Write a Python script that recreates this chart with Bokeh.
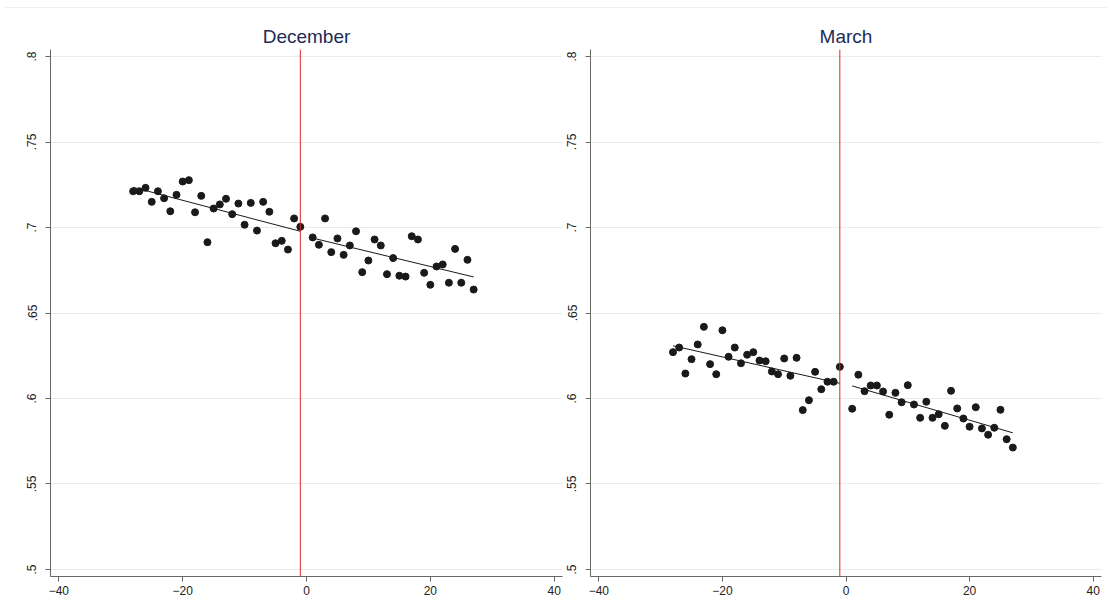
import numpy as np
from bokeh.plotting import figure
from bokeh.models import FixedTicker, Span, Div
from bokeh.layouts import row, column
from bokeh.embed import file_html
from bokeh.resources import INLINE

# ---- data ----
x_left = list(range(-28, 0))
x_right = list(range(1, 28))
cutoff = -1

dec_left = [0.7212, 0.7212, 0.7232, 0.7150, 0.7212, 0.7171, 0.7095, 0.7191, 0.7269, 0.7277,
            0.7089, 0.7185, 0.6914, 0.7111, 0.7135, 0.7168, 0.7078, 0.7140, 0.7016, 0.7144,
            0.6982, 0.7150, 0.7092, 0.6908, 0.6922, 0.6871, 0.7053, 0.7004]
dec_right = [0.6942, 0.6899, 0.7053, 0.6856, 0.6936, 0.6840, 0.6895, 0.6978, 0.6739, 0.6807,
             0.6930, 0.6895, 0.6727, 0.6821, 0.6718, 0.6713, 0.6949, 0.6930, 0.6735, 0.6665,
             0.6772, 0.6784, 0.6677, 0.6875, 0.6677, 0.6811, 0.6637]
mar_left = [0.6271, 0.6298, 0.6146, 0.6230, 0.6316, 0.6419, 0.6201, 0.6142, 0.6399, 0.6244,
            0.6298, 0.6206, 0.6256, 0.6271, 0.6222, 0.6218, 0.6158, 0.6142, 0.6234, 0.6133,
            0.6238, 0.5932, 0.5990, 0.6156, 0.6054, 0.6098, 0.6098, 0.6185]
mar_right = [0.5940, 0.6139, 0.6043, 0.6076, 0.6076, 0.6041, 0.5905, 0.6033, 0.5978, 0.6078,
             0.5965, 0.5887, 0.5981, 0.5887, 0.5908, 0.5840, 0.6045, 0.5942, 0.5883, 0.5835,
             0.5949, 0.5825, 0.5788, 0.5829, 0.5934, 0.5762, 0.5713]

panel_titles = ["December", "March"]
x_ticks = [-40, -20, 0, 20, 40]
y_ticks = [0.5, 0.55, 0.6, 0.65, 0.7, 0.75, 0.8]
y_tick_labels = [".5", ".55", ".6", ".65", ".7", ".75", ".8"]

FONT = "Liberation Sans"
AXIS_COL = "#666666"
GRID_COL = "#e4eced"
DOT_COL = "#1a1a1a"
TITLE_COL = "#1c2b55"


def make_panel(title, yl, yr, width, border_left, border_right):
    p = figure(width=width, height=586, output_backend="svg", toolbar_location=None,
               x_range=(-41.35, 41.35), y_range=(0.4959, 0.8041),
               min_border_left=border_left, min_border_right=border_right,
               min_border_top=36, min_border_bottom=23)
    p.outline_line_color = None
    p.background_fill_color = "white"
    p.border_fill_color = "white"

    p.title.text = title
    p.title.align = "center"
    p.title.text_font = FONT
    p.title.text_font_size = "19px"
    p.title.text_font_style = "normal"
    p.title.text_color = TITLE_COL
    p.title.standoff = 5

    p.xaxis.ticker = FixedTicker(ticks=x_ticks)
    p.yaxis.ticker = FixedTicker(ticks=y_ticks)
    p.yaxis.major_label_overrides = {t: l for t, l in zip(y_ticks, y_tick_labels)}
    p.yaxis.major_label_orientation = "vertical"
    for ax in (p.xaxis, p.yaxis):
        ax.axis_line_color = AXIS_COL
        ax.major_tick_line_color = AXIS_COL
        ax.minor_tick_line_color = None
        ax.major_tick_out = 5
        ax.major_tick_in = 0
        ax.major_label_text_font = FONT
        ax.major_label_text_font_size = "12px"
        ax.major_label_text_color = "#222222"
        ax.major_label_standoff = 4
    p.yaxis.major_label_standoff = 9
    p.xgrid.grid_line_color = None
    p.ygrid.grid_line_color = GRID_COL
    p.ygrid.grid_line_width = 1

    p.add_layout(Span(location=cutoff, dimension="height", line_color="#e0262b", line_width=1))

    for xs, ys in ((x_left, yl), (x_right, yr)):
        b, a = np.polyfit(xs, ys, 1)
        fx = [min(xs), max(xs)]
        p.line(fx, [a + b * v for v in fx], line_color="#1a1a1a", line_width=1)
        p.scatter(xs, ys, size=7, fill_color=DOT_COL, line_color=DOT_COL)
    return p


p1 = make_panel(panel_titles[0], dec_left, dec_right, 564, 50, 2)
p2 = make_panel(panel_titles[1], mar_left, mar_right, 538, 25, 1)

topline = Div(text="", width=1102, height=3,
              styles={"border-bottom": "1px solid #eceff0", "box-sizing": "border-box"})
layout = column(topline, row(p1, p2))

open("out.html", "w").write(file_html(layout, INLINE))
